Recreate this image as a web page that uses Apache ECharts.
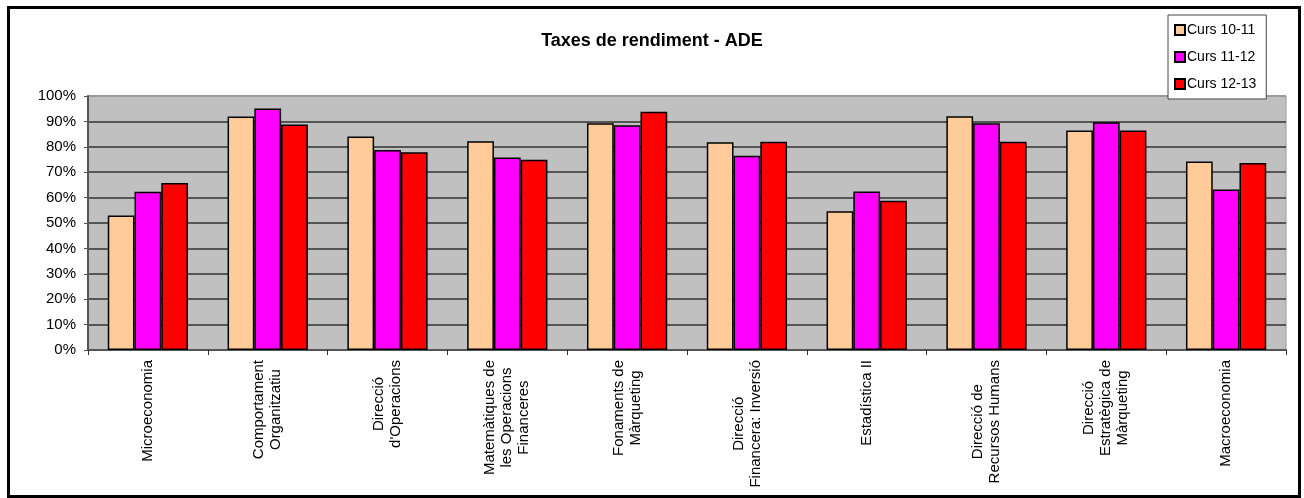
<!DOCTYPE html>
<html>
<head>
<meta charset="utf-8">
<script src="https://cdn.jsdelivr.net/npm/echarts@6/dist/echarts.min.js"></script>
<style>
  html, body { margin: 0; padding: 0; background: #fff; }
  #chart { width: 1304px; height: 498px; }
</style>
</head>
<body>
<div id="chart"></div>
<script>
// assignatures (eix x)
const subjects = [
  'Microeconomia',
  'Comportament\nOrganitzatiu',
  'Direcció\nd\'Operacions',
  'Matemàtiques de\nles Operacions\nFinanceres',
  'Fonaments de\nMàrqueting',
  'Direcció\nFinancera: Inversió',
  'Estadística II',
  'Direcció de\nRecursos Humans',
  'Direcció\nEstratègica de\nMàrqueting',
  'Macroeconomia'
]

// taxes de rendiment (%)
const curs1011 = [53.0, 91.9, 84.1, 82.2, 89.3, 81.8, 54.6, 92.0, 86.4, 74.2]
const curs1112 = [62.3, 95.1, 78.7, 75.8, 88.5, 76.5, 62.4, 89.3, 89.7, 63.2]
const curs1213 = [65.7, 88.8, 77.9, 74.9, 93.8, 82.0, 58.8, 82.0, 86.4, 73.6]

const seriesNames = ['Curs 10-11', 'Curs 11-12', 'Curs 12-13']
const seriesColors = ['#FFCC99', '#FF00FF', '#FF0000']

const font = 'Liberation Sans, Arial, sans-serif'

const chart = echarts.init(document.getElementById('chart'))

// la línia del 100% és més clara que la resta
const gridColors = []
for (let i = 0; i <= 10; i++) gridColors.push(i === 10 ? '#9a9a9a' : '#555555')

const makeSeries = (name, data, color) => ({
  name: name,
  type: 'bar',
  data: data,
  barGap: '0%',
  barCategoryGap: '33%',
  itemStyle: {
    color: color,
    borderColor: '#000',
    borderWidth: 1.5,
  },
})

chart.setOption({
  animation: false,
  textStyle: { fontFamily: font },
  title: {
    text: 'Taxes de rendiment - ADE',
    left: 647,
    textAlign: 'center',
    top: 27,
    textStyle: { fontFamily: font, fontSize: 18, fontWeight: 'bold', color: '#000' },
  },
  legend: {
    orient: 'vertical',
    left: 1168,
    top: 15,
    width: 99,
    padding: [8, 10, 8, 6],
    itemGap: 13,
    itemWidth: 10,
    itemHeight: 10,
    icon: 'rect',
    backgroundColor: '#fff',
    borderColor: '#444',
    borderWidth: 1,
    textStyle: { fontFamily: font, fontSize: 14, color: '#000', padding: [0, 0, 0, -3] },
    data: seriesNames,
  },
  grid: {
    left: 88,
    right: 18,
    top: 96,
    bottom: 148,
    show: true,
    backgroundColor: '#C0C0C0',
    borderColor: '#9a9a9a',
    borderWidth: 1,
  },
  xAxis: {
    type: 'category',
    data: subjects,
    axisLine: { lineStyle: { color: '#555', width: 2 } },
    axisTick: { show: true, length: 5, lineStyle: { color: '#333' } },
    axisLabel: {
      rotate: 90,
      margin: 10,
      interval: 0,
      color: '#000',
      fontFamily: font,
      fontSize: 15,
      lineHeight: 17,
      formatter: v => v.split('\n').map(s => '{c|' + s + '}').join('\n'),
      rich: {
        c: { align: 'center', fontFamily: font, fontSize: 15, lineHeight: 17, color: '#000' },
      },
    },
  },
  yAxis: {
    type: 'value',
    min: 0,
    max: 100,
    interval: 10,
    axisLine: { show: true, lineStyle: { color: '#555', width: 2 } },
    axisTick: { show: true, length: 4, lineStyle: { color: '#555' } },
    axisLabel: {
      formatter: '{value}%',
      color: '#000',
      fontFamily: font,
      fontSize: 15,
      margin: 12,
    },
    splitLine: { show: true, lineStyle: { color: gridColors, width: 2 } },
  },
  series: [
    makeSeries(seriesNames[0], curs1011, seriesColors[0]),
    makeSeries(seriesNames[1], curs1112, seriesColors[1]),
    makeSeries(seriesNames[2], curs1213, seriesColors[2]),
  ],
  graphic: [
    {
      type: 'rect',
      left: 6,
      top: 5,
      shape: { width: 1291, height: 489 },
      style: { fill: 'none', stroke: '#000', lineWidth: 3 },
      silent: true,
    },
  ],
})
</script>
</body>
</html>
